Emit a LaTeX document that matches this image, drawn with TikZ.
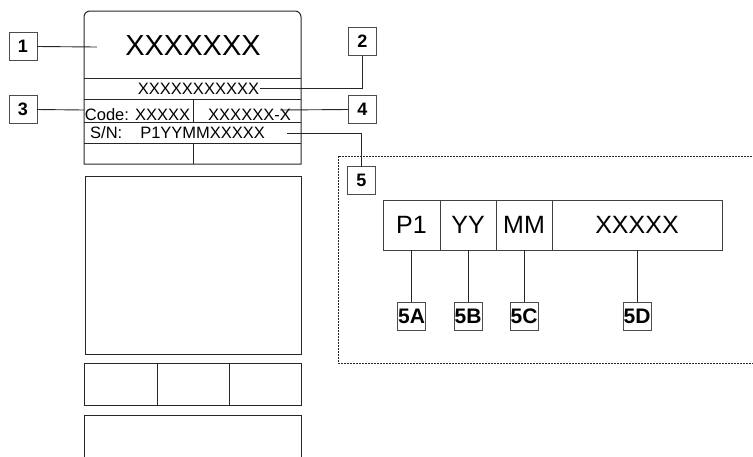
\documentclass[tikz,border=0pt]{standalone}
\usepackage{fontspec}
\setmainfont{Liberation Sans}
\usetikzlibrary{positioning}

\begin{document}
\begin{tikzpicture}[%
	x=1pt,y=-1pt,
	plate/.style={draw=black!85,line width=1pt},
	tag/.style={draw=black!70,line width=0.9pt,minimum size=28pt,inner sep=0pt,outer sep=0pt,
		font=\fontsize{18}{18}\selectfont\bfseries},
	subtag/.style={tag,font=\fontsize{21}{21}\selectfont\bfseries},
	field/.style={draw=black!75,line width=1pt,minimum height=50pt,inner sep=0pt,outer sep=0pt,
		font=\fontsize{25}{25}\selectfont},
	row/.style={inner sep=1pt,anchor=base,font=\fontsize{16.5}{16.5}\selectfont},
	lead/.style={draw=black!85,line width=0.9pt}]

	\clip (0,0) rectangle (753,456);

	% the type plate
	\draw[plate] (84,164) [rounded corners=6pt] -- (84,11) -- (301,11) [sharp corners] -- (301,164) -- cycle;
	\draw[plate] (84,78) -- (301,78) (84,99) -- (301,99) (84,122) -- (301,122) (84,143) -- (301,143);
	\draw[plate] (193,99) -- (193,122) (193,143) -- (193,164);
	\draw[plate] (85,176) rectangle (301,354);
	\draw[plate] (84,363) rectangle (301,405) (157,363) -- (157,405) (229,363) -- (229,405);
	\draw[plate] (84,415) rectangle (301,470);

	\node (TITLE) [anchor=base,font=\fontsize{29}{29}\selectfont] at (193,55.5) {XXXXXXX};
	\node (SUB)   [row] at (198.5,94.5)  {XXXXXXXXXXX};
	\node (CODE)  [row] at (137.5,120)   {Code: XXXXX};
	\node (TYPE)  [row] at (249.5,120)   {XXXXXX-X};
	\node (SN)    [row,anchor=base west] at (89,138.5) {S/N:\hspace{18pt}P1YYMMXXXXX};

	\coordinate (L1) at (97,47);
	\coordinate (L3) at (84,110);
	\coordinate (L4) at (280,110);
	\coordinate (L5) at (287,133);

	\node[tag] (T1) at (23,46.5)    {1};
	\node[tag] (T3) at (23,109.5)   {3};
	\node[tag] (T2) at (362.5,41.5) {2};
	\node[tag] (T4) at (362.5,109.5) {4};
	\node[tag] (T5) at (361.5,180.5) {5};

	\draw[lead] (T1.east) -- (L1);
	\draw[lead] (SUB.east) -| (T2.south);
	\draw[lead] (T3.east) -- (L3);
	\draw[lead] (T4.west) -- (L4);
	\draw[lead] (L5) -| (T5.north);

	% serial number breakdown
	\draw[black!85,line width=0.8pt,dash pattern=on 2pt off 1pt] (338,156) rectangle (770,363);

	\node[field,minimum width=57pt] (P1) at (411.5,225)   {P1};
	\node[field,minimum width=56pt] (YY) [right=0pt of P1] {YY};
	\node[field,minimum width=56pt] (MM) [right=0pt of YY] {MM};
	\node[field,minimum width=170pt] (XX) [right=0pt of MM] {XXXXX};

	\node[subtag] (S5A) [below=52pt of P1] {5A};
	\node[subtag] (S5B) [below=52pt of YY] {5B};
	\node[subtag] (S5C) [below=52pt of MM] {5C};
	\node[subtag] (S5D) [below=52pt of XX] {5D};

	\draw[lead] (P1) -- (S5A);
	\draw[lead] (YY) -- (S5B);
	\draw[lead] (MM) -- (S5C);
	\draw[lead] (XX) -- (S5D);

\end{tikzpicture}
\end{document}
